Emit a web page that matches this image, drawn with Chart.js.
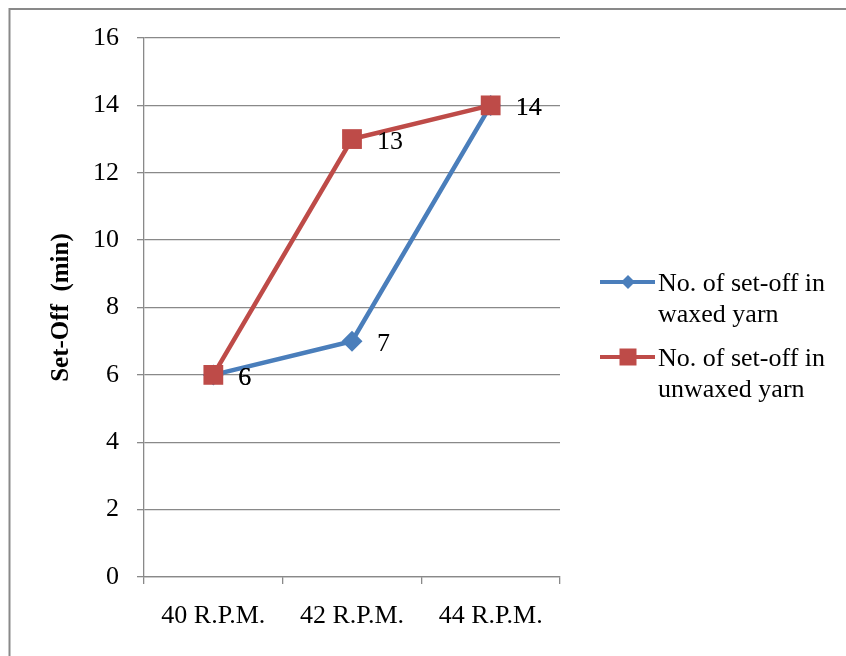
<!DOCTYPE html>
<html>
<head>
<meta charset="utf-8">
<script src="https://cdn.jsdelivr.net/npm/chart.js@4/dist/chart.umd.min.js"></script>
<style>
  body { margin: 0; background: #fff; }
  canvas { display: block; }
</style>
</head>
<body>
<canvas id="setoff_chart" width="846" height="656"></canvas>
<script>
const categories   = ["40 R.P.M.", "42 R.P.M.", "44 R.P.M."];
const waxed        = [6, 7, 14];
const unwaxed      = [6, 13, 14];
const series_names = ["No. of set-off in waxed yarn", "No. of set-off in unwaxed yarn"];
const legend_lines = [["No. of set-off in", "waxed yarn"], ["No. of set-off in", "unwaxed yarn"]];
const y_title      = "Set-Off  (min)";

const FONT = "'Liberation Serif', 'Times New Roman', serif";
const BLUE = "#4a7ebb";
const RED  = "#be4b48";
const GRID = "#898989";

// frame, value labels and the two-line legend
const extras = {
    id: "extras",
    beforeDraw(chart) {
        const ctx = chart.ctx;
        ctx.save();
        ctx.strokeStyle = GRID;
        ctx.lineWidth = 2;
        ctx.strokeRect(9.5, 9, 900, 900);
        ctx.restore();
    },
    afterDatasetsDraw(chart) {
        const ctx = chart.ctx;
        ctx.save();
        ctx.fillStyle = "#000";
        ctx.font = "26px " + FONT;
        ctx.textAlign = "left";
        ctx.textBaseline = "middle";
        chart.data.datasets.forEach((ds, i) => {
            const meta = chart.getDatasetMeta(i);
            meta.data.forEach((pt, j) => {
                ctx.fillText(String(ds.data[j]), pt.x + 25, pt.y + 3);
            });
        });

        // legend
        chart.data.datasets.forEach((ds, i) => {
            const y = 282 + i * 75;
            ctx.strokeStyle = ds.borderColor;
            ctx.lineWidth = 4;
            ctx.beginPath();
            ctx.moveTo(600, y);
            ctx.lineTo(655, y);
            ctx.stroke();
            ctx.fillStyle = ds.backgroundColor;
            ctx.beginPath();
            if (ds.pointStyle === "rectRot") {
                ctx.moveTo(628, y - 7);
                ctx.lineTo(635, y);
                ctx.lineTo(628, y + 7);
                ctx.lineTo(621, y);
                ctx.closePath();
            } else {
                ctx.rect(619.5, y - 8.5, 17, 17);
            }
            ctx.fill();

            ctx.fillStyle = "#000";
            ctx.textBaseline = "alphabetic";
            legend_lines[i].forEach((line, k) => {
                ctx.fillText(line, 658, y + 9 + k * 31);
            });
        });
        ctx.restore();
    }
};

const ctx = document.getElementById("setoff_chart").getContext("2d");
const chart = new Chart(ctx, {
    type: "line",
    data: {
        labels: categories,
        datasets: [{
            label: series_names[0],
            data: waxed,
            borderColor: BLUE,
            backgroundColor: BLUE,
            borderWidth: 4.5,
            pointStyle: "rectRot",
            pointRadius: 10.5,
            pointBorderWidth: 0,
            order: 1,
            tension: 0
        }, {
            label: series_names[1],
            data: unwaxed,
            borderColor: RED,
            backgroundColor: RED,
            borderWidth: 4.5,
            pointStyle: "rect",
            pointRadius: 14,
            pointBorderWidth: 0,
            order: 0,
            tension: 0
        }]
    },
    options: {
        responsive: false,
        animation: false,
        layout: { padding: { left: 0, top: 38, right: 286, bottom: 0 } },
        plugins: {
            legend: { display: false },
            tooltip: { enabled: false }
        },
        scales: {
            x: {
                offset: true,
                grid: {
                    display: true,
                    offset: true,
                    drawOnChartArea: false,
                    drawTicks: true,
                    tickLength: 7,
                    color: GRID,
                    lineWidth: 1.3
                },
                border: { display: true, color: GRID, width: 1.3 },
                ticks: {
                    color: "#000",
                    font: { family: FONT, size: 26 },
                    padding: 17,
                    maxRotation: 0
                },
                afterFit(scale) { scale.height = 79; }
            },
            y: {
                min: 0,
                max: 16,
                ticks: {
                    stepSize: 2,
                    color: "#000",
                    font: { family: FONT, size: 26 },
                    padding: 18
                },
                grid: {
                    color: GRID,
                    lineWidth: 1.3,
                    tickLength: 7
                },
                border: { display: true, color: GRID, width: 1.3 },
                title: {
                    display: true,
                    text: y_title,
                    color: "#000",
                    font: { family: FONT, size: 25, weight: "bold" },
                    padding: { top: 47, bottom: 0 }
                },
                afterFit(scale) { scale.width = 144; }
            }
        }
    },
    plugins: [extras]
});
</script>
</body>
</html>
